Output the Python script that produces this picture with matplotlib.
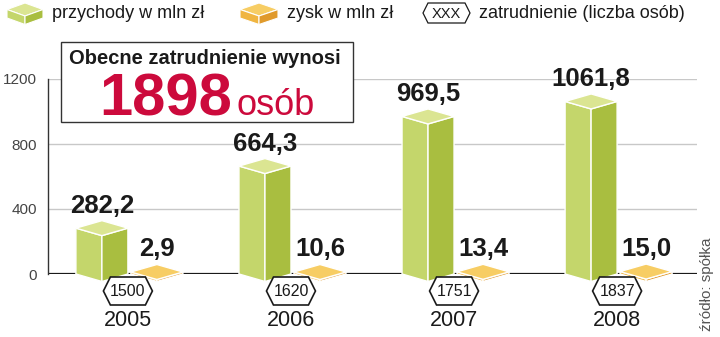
import numpy as np
import matplotlib.pyplot as plt
from matplotlib.patches import Polygon, Rectangle

# ---- data ----
years = ['2005', '2006', '2007', '2008']
przychody = [282.2, 664.3, 969.5, 1061.8]   # przychody w mln zł
zysk = [2.9, 10.6, 13.4, 15.0]              # zysk w mln zł
zatrudnienie = [1500, 1620, 1751, 1837]     # liczba osób
zatrudnienie_teraz = 1898
yticks = [0, 400, 800, 1200]

# ---- colours / fonts ----
green = ('#dbe592', '#c4d66b', '#a9be40')    # top, left, right face
orange = ('#f7cd64', '#f0b541', '#e09a2c')
red = '#cc0a3c'
dark = '#1a1a1a'
SANS = ['Liberation Sans', 'DejaVu Sans']
plt.rcParams['font.family'] = SANS


def fmt(v):
    return f'{v:.1f}'.replace('.', ',')


def box(axx, xc, v, hw, d, cols, z=3):
    # isometric box: left/right corners sit at v, front corner d lower
    top, left, right = cols
    faces = [
        ([(xc - hw, 0), (xc, -d), (xc, v - d), (xc - hw, v)], left),
        ([(xc, -d), (xc + hw, 0), (xc + hw, v), (xc, v - d)], right),
        ([(xc - hw, v), (xc, v - d), (xc + hw, v), (xc, v + d)], top),
    ]
    for pts, c in faces:
        axx.add_patch(Polygon(pts, closed=True, fc=c, ec='white', lw=1,
                              zorder=z, clip_on=False))


def hexagon(axx, xc, yc, hw, hh, ins, z=6, lw=1.2):
    pts = [(xc - hw + ins, yc + hh), (xc + hw - ins, yc + hh), (xc + hw, yc),
           (xc + hw - ins, yc - hh), (xc - hw + ins, yc - hh), (xc - hw, yc)]
    axx.add_patch(Polygon(pts, closed=True, fc='white', ec=dark, lw=lw,
                          zorder=z, clip_on=False))


W, H, DPI = 720, 337, 100
fig = plt.figure(figsize=(W / DPI, H / DPI), dpi=DPI)

# main axes placed in pixel terms
ax_l, ax_r, ax_base, ax_top = 48, 697, 274, 79
ax = fig.add_axes([ax_l / W, (H - ax_base) / H, (ax_r - ax_l) / W, (ax_base - ax_top) / H])
x = np.arange(len(years))
x0, x1 = -0.49, len(years) - 0.51
ax.set_xlim(x0, x1)
ax.set_ylim(0, 1200)

# pixel -> data scale factors
sx = (x1 - x0) / (ax_r - ax_l)
sy = 1200 / (ax_base - ax_top)

ax.set_yticks(yticks)
ax.set_yticklabels([str(t) for t in yticks], fontsize=11, color='#444444')
ax.set_xticks([])
ax.tick_params(axis='y', length=0, pad=8)
ax.grid(axis='y', color='#c8c8c8', lw=1, zorder=0)
for s in ['top', 'right', 'bottom']:
    ax.spines[s].set_visible(False)
ax.spines['left'].set_color('#333333')
ax.spines['left'].set_linewidth(1)
ax.axhline(0, color=dark, lw=1.6, zorder=2)

pt = 72 / DPI   # px -> points
for i, xi in enumerate(x):
    # przychody (green block)
    gx = xi - 26 * sx
    box(ax, gx, przychody[i], 26 * sx, 7.5 * sy, green, z=3)
    ax.annotate(fmt(przychody[i]), xy=(gx, przychody[i]), xytext=(0, 15 * pt),
                textcoords='offset points', ha='center', va='baseline',
                fontsize=18.5, fontweight='bold', color=dark, zorder=5)
    # zysk (orange slab)
    ox = xi + 29 * sx
    h = max(zysk[i], 2 * sy)
    box(ax, ox, h, 26 * sx, 7.5 * sy, orange, z=4)
    ax.annotate(fmt(zysk[i]), xy=(ox, 0), xytext=(0, 18 * pt),
                textcoords='offset points', ha='center', va='baseline',
                fontsize=18.5, fontweight='bold', color=dark, zorder=5)
    # zatrudnienie hexagon
    hy = -17 * sy
    hexagon(ax, xi, hy, 24.5 * sx, 14 * sy, 7 * sx)
    ax.text(xi, hy, str(zatrudnienie[i]), ha='center', va='center',
            fontsize=11.5, color=dark, zorder=7, clip_on=False)
    # year
    ax.text(xi, -46 * sy, years[i], ha='center', va='center',
            fontsize=15.5, color=dark, clip_on=False)

# ---- overlay in pixel coords: legend, info box, source ----
ov = fig.add_axes([0, 0, 1, 1], zorder=10)
ov.set_xlim(0, W)
ov.set_ylim(H, 0)
ov.axis('off')


def cube_icon(cx, t, hw, dd, hg, cols):
    top, left, right = cols
    faces = [
        ([(cx, t), (cx + hw, t + dd), (cx, t + 2 * dd), (cx - hw, t + dd)], top),
        ([(cx - hw, t + dd), (cx, t + 2 * dd), (cx, t + 2 * dd + hg), (cx - hw, t + dd + hg)], left),
        ([(cx + hw, t + dd), (cx, t + 2 * dd), (cx, t + 2 * dd + hg), (cx + hw, t + dd + hg)], right),
    ]
    for pts, c in faces:
        ov.add_patch(Polygon(pts, closed=True, fc=c, ec='white', lw=0.8))


ly = 14
cube_icon(25, 3, 18, 6.5, 8.5, green)
ov.text(52, ly, 'przychody w mln zł', ha='left', va='center', fontsize=13, color=dark)
cube_icon(259, 3, 19, 6.5, 8.5, orange)
ov.text(287, ly, 'zysk w mln zł', ha='left', va='center', fontsize=13, color=dark)
hexagon(ov, 446.5, 13, 23.5, 10, 5, z=3, lw=0.9)
ov.text(446.5, 13.5, 'XXX', ha='center', va='center', fontsize=10.5, color=dark)
ov.text(479, ly, 'zatrudnienie (liczba osób)', ha='left', va='center', fontsize=13, color=dark)

# info box
ov.add_patch(Rectangle((61, 42), 292, 80, fc='white', ec='#333333', lw=1, zorder=2))
ov.text(205, 64, 'Obecne zatrudnienie wynosi', ha='center', va='baseline',
        fontsize=14.5, fontweight='bold', color=dark, zorder=3)
ov.text(232, 115, str(zatrudnienie_teraz), ha='right', va='baseline',
        fontsize=43, fontweight='bold', color=red, zorder=3)
ov.text(236, 115, 'osób', ha='left', va='baseline',
        fontsize=26, color=red, zorder=3)

# source
ov.text(707, 331, 'źródło: spółka', rotation=90, ha='center', va='bottom',
        fontsize=11, color='#555555')

fig.savefig('out.png', dpi=DPI)
